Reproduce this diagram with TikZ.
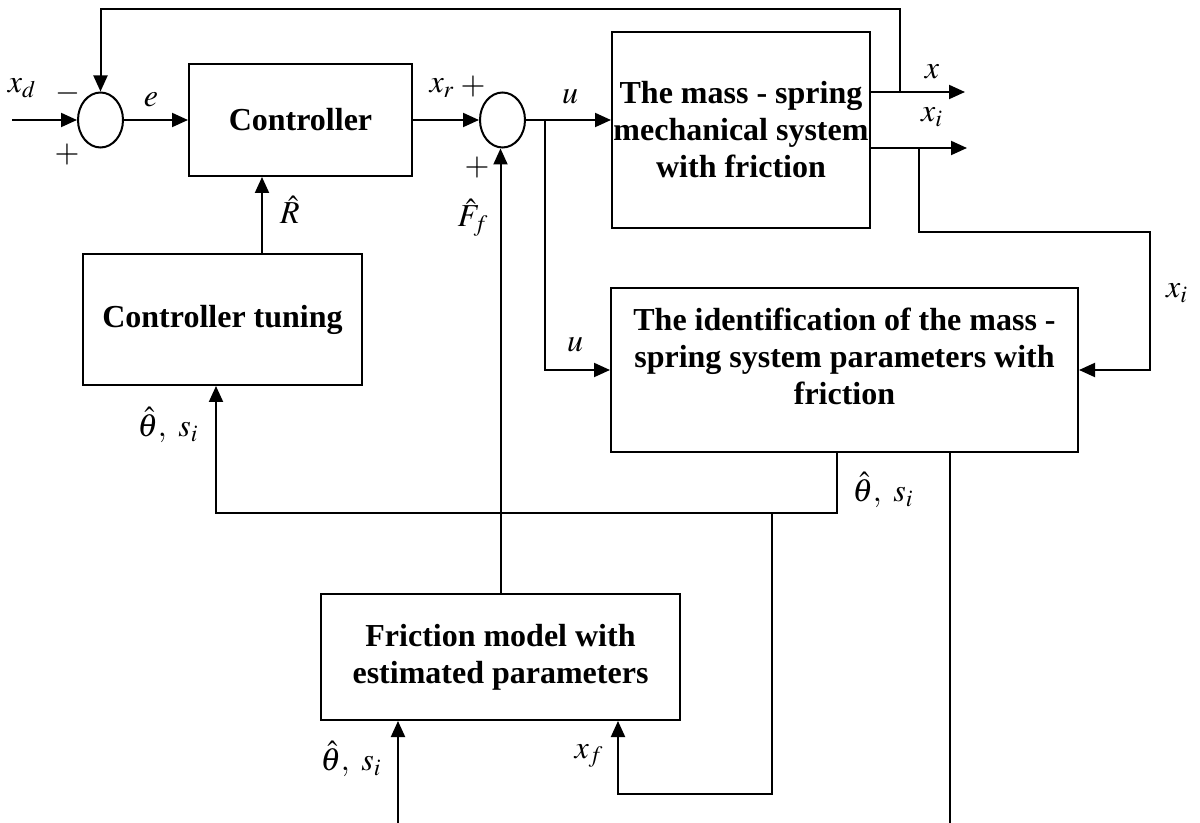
\documentclass[tikz,border=0pt]{standalone}
\usepackage{mathptmx}
\usepackage{fontspec}
\setmainfont{Liberation Serif}
\usetikzlibrary{arrows.meta,shapes.geometric}

\tikzset{
  blocco/.style={draw, line width=1pt, align=center, font=\bfseries, inner sep=0pt},
  somma/.style={draw, ellipse, line width=1pt, minimum width=22.5pt, minimum height=27.5pt, inner sep=0pt},
  etichetta/.style={inner sep=0pt}
}

\begin{document}
\fontsize{16}{18.5}\selectfont
\begin{tikzpicture}[x=0.5pt, y=-0.5pt, line width=1pt, >={Triangle[length=8pt,width=7pt]}]
            \useasboundingbox (0,0) rectangle (1200,823);

            % Blocchi
            \node[blocco, minimum width=111.5pt, minimum height=56pt] (controllore) at (300.5,120) {Controller};
            \node[blocco, minimum width=129pt, minimum height=98pt] (sistema) at (741,130)
                {The mass - spring\\mechanical system\\with friction};
            \node[blocco, minimum width=139.5pt, minimum height=65.5pt] (taratura) at (222.5,319.5) {Controller tuning};
            \node[blocco, minimum width=233.5pt, minimum height=82pt,
                label={[blocco, draw=none, yshift=7pt]center:The identification of the mass -\\spring system parameters with\\friction}]
                (identificazione) at (844.5,370) {};
            \node[blocco, minimum width=179.5pt, minimum height=63pt] (attrito) at (500.5,657)
                {Friction model with\\estimated parameters};

            % Sommatori
            \node[somma] (s1) at (100.5,120) {};
            \node[somma] (s2) at (502.5,120) {};

            % Punti di diramazione
            \coordinate (ingresso) at (12,120);
            \coordinate (ramoX) at (900,92);
            \coordinate (alto) at (900,9);
            \coordinate (uscitaX) at (965,92);
            \coordinate (uscitaXi) at (967,148);
            \coordinate (ramoXi) at (919,148);
            \coordinate (destraXi) at (1150,232);
            \coordinate (ramoU) at (545,120);
            \coordinate (ramoTheta) at (837,513);
            \coordinate (ramoF) at (772,513);
            \coordinate (bassoF) at (772,794);
            \coordinate (fondoId) at (950,823);
            \coordinate (ingressoF) at (398,823);

            % Anello principale
            \draw[->] (ingresso) -- (s1);
            \draw[->] (s1) -- (controllore);
            \draw[->] (controllore) -- (s2);
            \draw[->] (s2.east) -- (s2.east -| sistema.west);
            \draw[->] (ramoX) -- (alto) -| (s1);

            % Uscite
            \draw[->] (sistema.east |- uscitaX) -- (uscitaX);
            \draw[->] (sistema.east |- uscitaXi) -- (uscitaXi);
            \draw[->] (ramoXi) |- (destraXi) |- (identificazione.east);
            \draw[->] (ramoU) |- (identificazione.west);

            % Stime
            \draw[->] (identificazione.south -| ramoTheta) -- (ramoTheta) -| (taratura.south -| 216,0);
            \draw[->] (ramoF) -- (bassoF) -| (attrito.south -| 618,0);
            \draw (identificazione.south -| fondoId) -- (fondoId);
            \draw[->] (ingressoF) -- (ingressoF |- attrito.south);
            \draw[->] (taratura.north -| 262,0) -- (controllore.south -| 262,0);
            \draw[->] (attrito.north) -- (attrito.north |- s2.south);

            % Etichette
            \node[etichetta] (lxd) at (22,88) {$x_d$};
            \node[etichetta] (lmeno) at (68,94) {$-$};
            \node[etichetta] (lpiu1) at (67,155) {$+$};
            \node[etichetta] (le) at (151,100) {$e$};
            \node[etichetta] (lxr) at (442,88) {$x_r$};
            \node[etichetta] (lpiu2) at (473,87) {$+$};
            \node[etichetta] (lpiu3) at (477,168) {$+$};
            \node[etichetta] (lu1) at (570,97) {$u$};
            \node[etichetta] (lR) at (290,210) {$\hat{R}$};
            \node[etichetta] (lF) at (473,218) {$\hat{F}_f$};
            \node[etichetta] (lx) at (932,72) {$x$};
            \node[etichetta] (lxi1) at (932,117) {$x_i$};
            \node[etichetta] (lxi2) at (1177,293) {$x_i$};
            \node[etichetta] (lu2) at (575,345) {$u$};
            \node[etichetta] (lth1) at (168,425) {$\hat{\theta},\ s_i$};
            \node[etichetta] (lth2) at (883,490) {$\hat{\theta},\ s_i$};
            \node[etichetta] (lth3) at (351,759) {$\hat{\theta},\ s_i$};
            \node[etichetta] (lxf) at (589,756) {$x_f$};
        \end{tikzpicture}
\end{document}
